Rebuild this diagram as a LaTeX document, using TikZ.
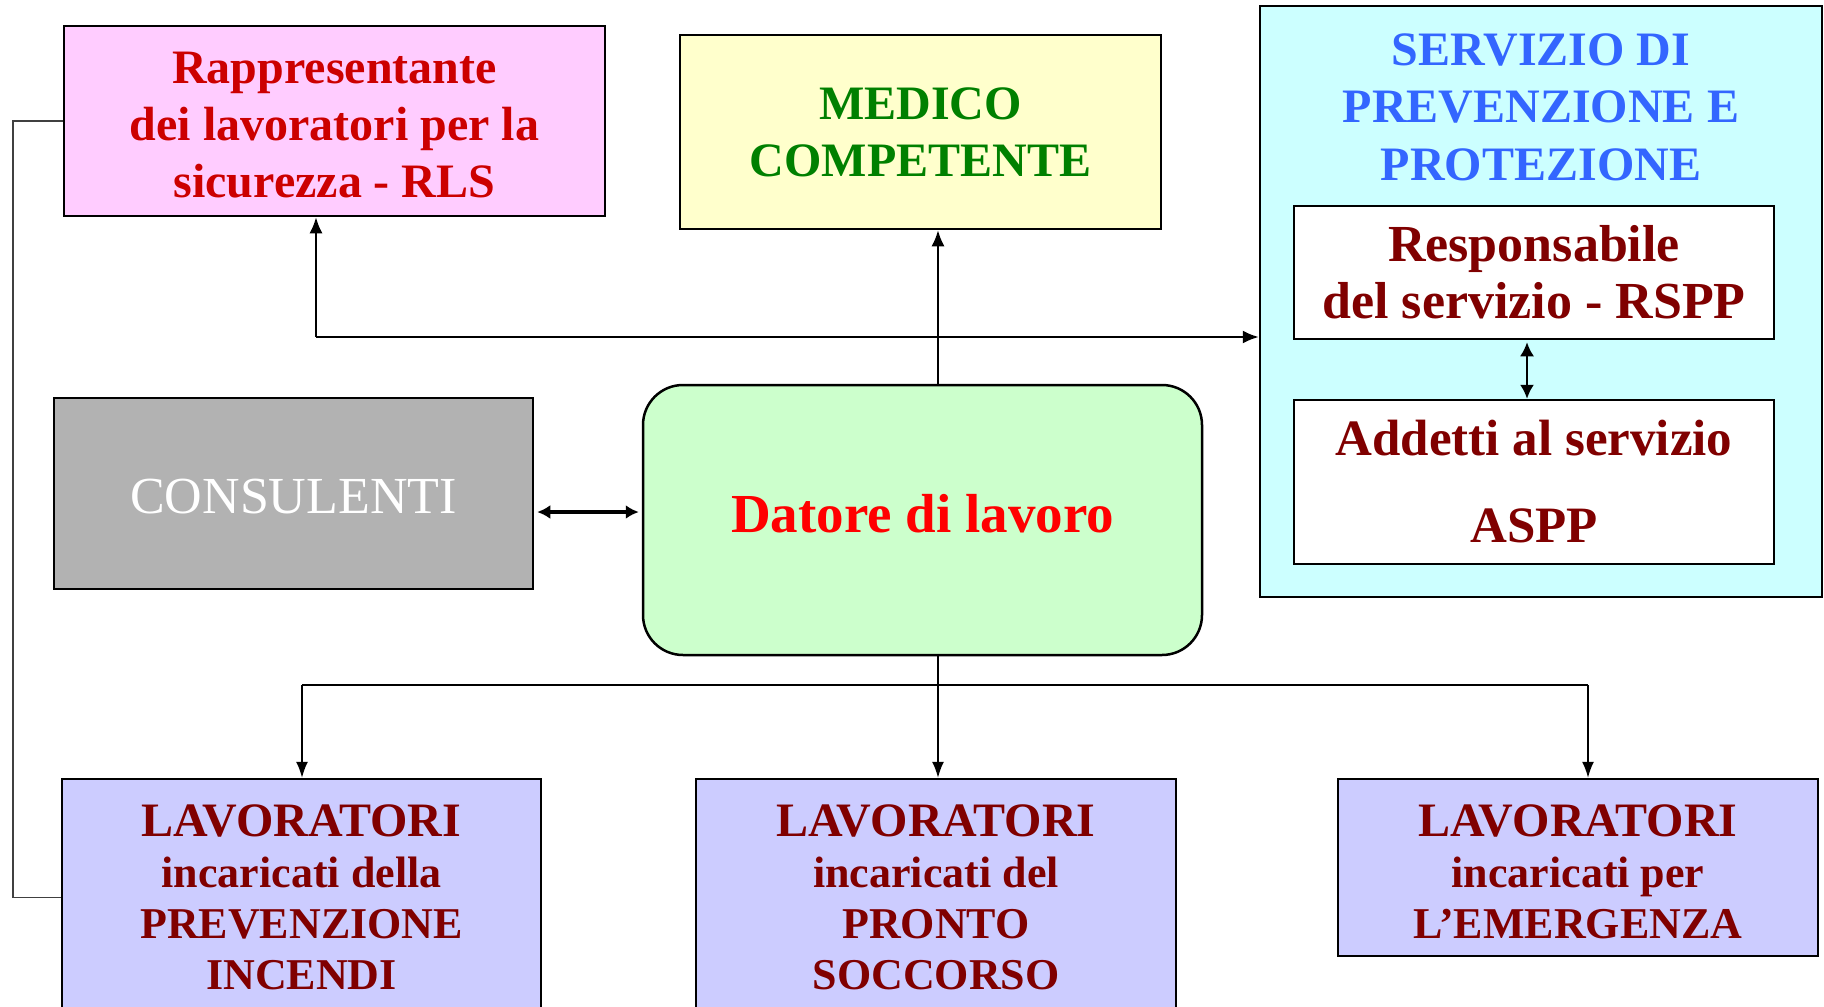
\documentclass[tikz,border=0pt]{standalone}
\usepackage{fontspec}
\setmainfont{Liberation Serif}
\usetikzlibrary{arrows.meta}
\definecolor{rlsfill}{HTML}{FFCCFF}
\definecolor{rlstext}{HTML}{CC0000}
\definecolor{medfill}{HTML}{FFFFCC}
\definecolor{medtext}{HTML}{008000}
\definecolor{sppfill}{HTML}{CCFFFF}
\definecolor{spptext}{HTML}{3366FF}
\definecolor{darkred}{HTML}{800000}
\definecolor{consfill}{HTML}{B2B2B2}
\definecolor{datfill}{HTML}{CCFFCC}
\definecolor{dattext}{HTML}{FF0000}
\definecolor{lavfill}{HTML}{CCCCFF}
\newcommand{\stk}[2]{\raisebox{#1}[\height][\depth]{\begin{tabular}{@{}c@{}}#2\end{tabular}}}
\newcommand{\shft}[2]{\raisebox{#1}[\height][\depth]{#2}}
\begin{document}
\begin{tikzpicture}[x=1pt,y=-1pt,
  box/.style={draw=black, line width=2.5pt, rectangle, inner sep=0pt, align=center},
  conn/.style={line width=2pt, -{Latex[length=16pt,width=13pt]}},
  thinconn/.style={line width=1.6pt, -{Latex[length=16pt,width=12pt]}},
  dblconn/.style={line width=2pt, {Latex[length=14pt,width=14pt]}-{Latex[length=14pt,width=14pt]}},
  thickdbl/.style={line width=3.5pt, {Latex[length=13pt,width=14pt]}-{Latex[length=13pt,width=14pt]}},
  plainline/.style={line width=2.6pt},
  hairline/.style={line width=1.2pt, draw=black!75}]
\useasboundingbox (0,0) rectangle (1824,1007);
\clip (0,0) rectangle (1824,1007);
\fill[white] (0,0) rectangle (1824,1007);

% top row
\node[box, fill=rlsfill, minimum width=541pt, minimum height=190pt,
      font=\fontsize{48}{57}\selectfont\bfseries, text=rlstext] (rls) at (334.5,121)
      {\stk{-8pt}{Rappresentante\\dei lavoratori per la\\sicurezza - RLS}};
\node[box, fill=medfill, minimum width=481pt, minimum height=194pt,
      font=\fontsize{48}{57}\selectfont\bfseries, text=medtext] (med) at (920.5,132)
      {MEDICO\\COMPETENTE};

% servizio di prevenzione e protezione
\node[box, fill=sppfill, minimum width=562pt, minimum height=591pt] (spp) at (1541,301.5) {};
\node[align=center, inner sep=0pt, font=\fontsize{48}{57.5}\selectfont\bfseries, text=spptext]
      (spptitle) at (1541,107) {SERVIZIO DI\\PREVENZIONE E\\PROTEZIONE};
\node[box, fill=white, minimum width=480pt, minimum height=133pt,
      font=\fontsize{52}{57}\selectfont\bfseries, text=darkred] (rspp) at (1534,272.5)
      {Responsabile\\del servizio - RSPP};
\node[box, fill=white, minimum width=480pt, minimum height=164pt,
      font=\fontsize{51}{87}\selectfont\bfseries, text=darkred] (aspp) at (1534,482)
      {Addetti al servizio\\ASPP};

% middle row
\node[box, fill=consfill, minimum width=479pt, minimum height=191pt,
      font=\fontsize{52}{60}\selectfont, text=white] (cons) at (293.5,493.5)
      {\shft{-3pt}{CONSULENTI}};
\node[box, fill=datfill, rounded corners=40pt, minimum width=559pt, minimum height=270pt,
      font=\fontsize{55}{60}\selectfont\bfseries, text=dattext] (dat) at (922.5,520)
      {\shft{6pt}{Datore di lavoro}};

% bottom row
\node[box, fill=lavfill, minimum width=479pt, minimum height=237pt,
      font=\fontsize{44}{51}\selectfont\bfseries, text=darkred] (lav1) at (301.5,897.5)
      {{\fontsize{48}{51}\selectfont LAVORATORI}\\incaricati della\\PREVENZIONE\\INCENDI};
\node[box, fill=lavfill, minimum width=480pt, minimum height=237pt,
      font=\fontsize{44}{51}\selectfont\bfseries, text=darkred] (lav2) at (936,897.5)
      {{\fontsize{48}{51}\selectfont LAVORATORI}\\incaricati del\\PRONTO\\SOCCORSO};
\node[box, fill=lavfill, minimum width=480pt, minimum height=177pt,
      font=\fontsize{44}{51}\selectfont\bfseries, text=darkred] (lav3) at (1578,867.5)
      {\stk{-10pt}{{\fontsize{48}{51}\selectfont LAVORATORI}\\incaricati per\\L’EMERGENZA}};

% helper coordinates
\coordinate (tj) at (316,337);
\coordinate (vx) at (938,0);
\coordinate (cy) at (0,512);
\coordinate (ax) at (1527,0);
\coordinate (bj) at (938,685);
\coordinate (bl) at (302,685);
\coordinate (br) at (1588,685);
\coordinate (ll) at (13,0);

% connectors
\draw[conn] (tj) -- (rls.south -| tj);
\draw[conn] (tj) -- (tj -| spp.west);
\draw[conn] (dat.north -| vx) -- (med.south -| vx);
\draw[thickdbl, shorten <=3pt, shorten >=3pt] (cons.east |- cy) -- (dat.west |- cy);
\draw[dblconn, shorten <=2pt] (rspp.south -| ax) -- (aspp.north -| ax);
\draw[plainline] (bl) -- (br);
\draw[thinconn] (dat.south -| bj) -- (lav2.north -| bj);
\draw[thinconn] (bl) -- (lav1.north -| bl);
\draw[thinconn] (br) -- (lav3.north -| br);
\draw[hairline] (rls.west) -| (ll |- lav1.west) -- (lav1.west);
\end{tikzpicture}
\end{document}
